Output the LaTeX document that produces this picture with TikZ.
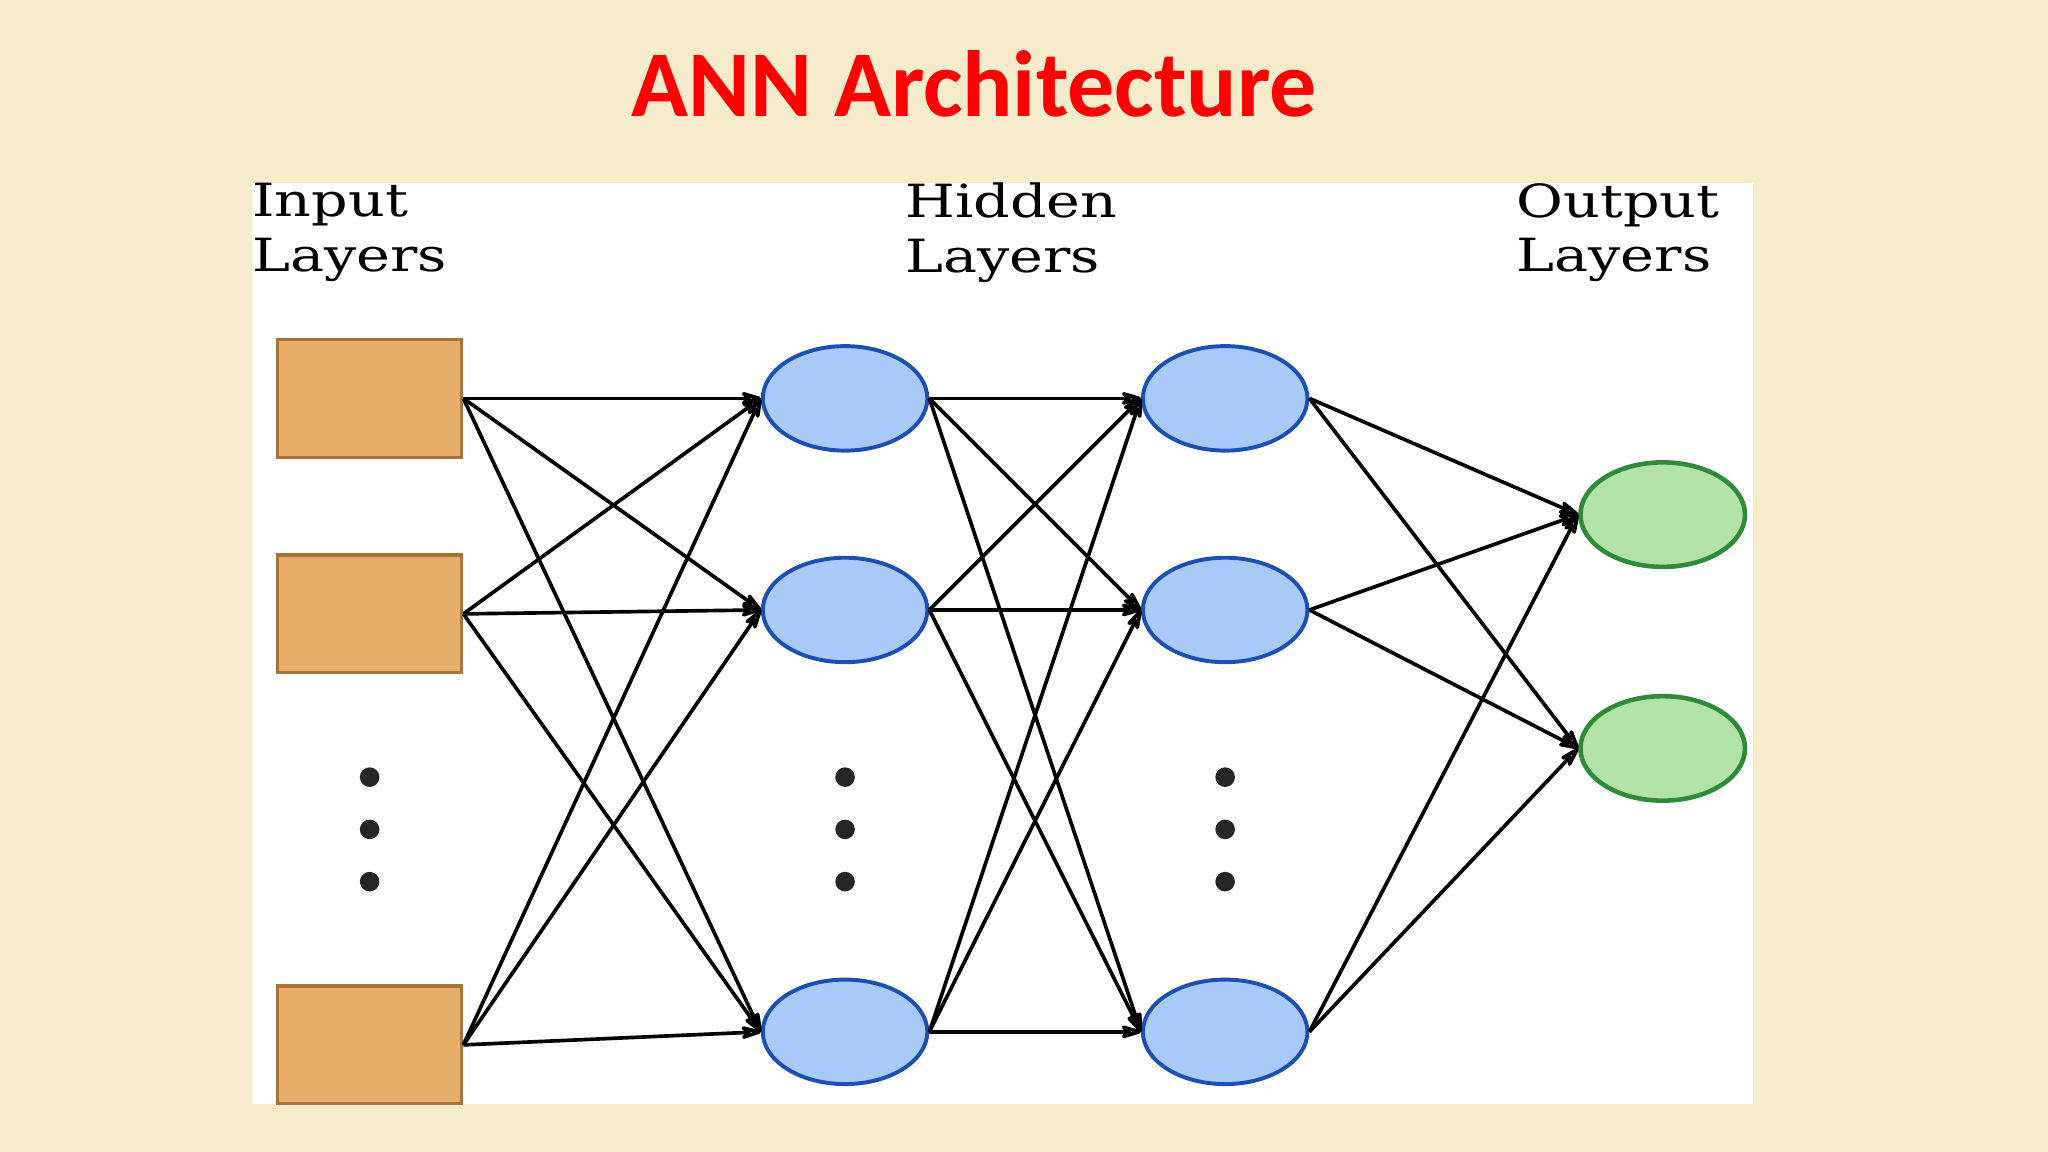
\documentclass[tikz,border=0pt]{standalone}
\usepackage{fontspec}
\usetikzlibrary{arrows.meta,shapes.geometric}
\newfontfamily\titlefont{Carlito}
\newfontfamily\labfont[FakeStretch=1.25]{DejaVu Serif}
\definecolor{bg}{HTML}{F6ECCB}
\definecolor{inF}{HTML}{E8AE6A}\definecolor{inD}{HTML}{A8743C}
\definecolor{hF}{HTML}{A9C9F8}\definecolor{hD}{HTML}{1C4FB4}
\definecolor{oF}{HTML}{B3E2A6}\definecolor{oD}{HTML}{2F8A3A}
\begin{document}
\begin{tikzpicture}[x=1pt,y=-1pt,
 inp/.style={draw=inD,fill=inF,line width=2.5pt,minimum width=141pt,minimum height=90pt,inner sep=0},
 hid/.style={ellipse,draw=hD,fill=hF,line width=3pt,minimum width=126pt,minimum height=80pt,inner sep=0},
 outn/.style={ellipse,draw=oD,fill=oF,line width=3.5pt,minimum width=126pt,minimum height=80pt,inner sep=0},
 dot/.style={circle,fill=black!85,minimum size=15pt,inner sep=0},
 lab/.style={font=\labfont\fontsize{35}{42}\selectfont,align=left,anchor=north west,inner sep=0},
 e/.style={line width=2.8pt,-{Stealth[length=22pt,width=13pt,open,round]}}]
\useasboundingbox (0,0) rectangle (1568,882);
\fill[bg] (0,0) rectangle (1568,882);
\fill[white] (193,140) rectangle (1342,845);
\node (t) at (746,64) {\titlefont\bfseries\fontsize{72}{76}\selectfont\color{red} ANN Architecture};
\node[lab] (l1) at (193,140) {Input\\Layers};
\node[lab] (l2) at (693,140) {Hidden\\Layers};
\node[lab] (l3) at (1161,140) {Output\\Layers};
\node[inp] (i1) at (283,305) {};
\node[inp] (i2) at (283,470) {};
\node[inp] (i3) at (283,800) {};
\foreach \c/\x in {a/647,b/938}{
 \node[hid] (\c1) at (\x,305) {};
 \node[hid] (\c2) at (\x,467) {};
 \node[hid] (\c3) at (\x,790) {};}
\node[outn] (o1) at (1273,394) {};
\node[outn] (o2) at (1273,573) {};
\foreach \x/\n in {283/p,647/q,938/r}{
 \node[dot] (\n1) at (\x,595) {};
 \node[dot] (\n2) at (\x,635) {};
 \node[dot] (\n3) at (\x,675) {};}
\foreach \s in {1,2,3}{\foreach \t in {1,2,3}{
 \draw[e] (i\s.east) -- (a\t.west);
 \draw[e] (a\s.east) -- (b\t.west);}
 \foreach \t in {1,2}{\draw[e] (b\s.east) -- (o\t.west);}}
\end{tikzpicture}
\end{document}
